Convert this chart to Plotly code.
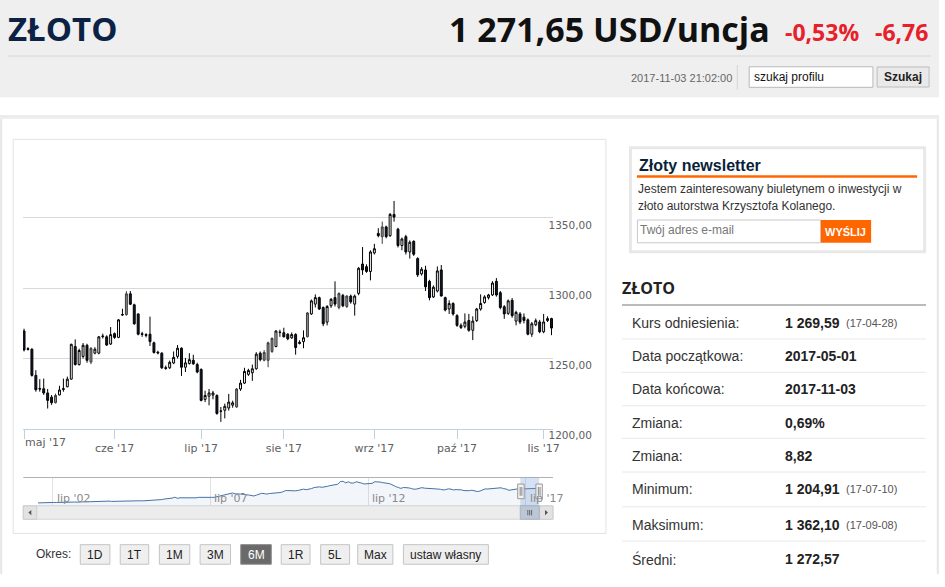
import plotly.graph_objects as go
import pandas as pd

W, H = 945, 587

# ---------------- main series (daily OHLC, USD/oz) ----------------
open_ = [1269.6, 1257.0, 1256.6, 1238.0, 1228.6, 1228.5, 1225.5, 1222.5, 1218.6, 1224.1,
         1228.0, 1229.9, 1235.3, 1258.5, 1245.7, 1251.5, 1259.4, 1247.5, 1253.8, 1253.8,
         1265.5, 1265.4, 1260.3, 1267.7, 1265.0, 1281.0, 1281.2, 1296.0, 1288.2, 1281.7,
         1267.6, 1267.0, 1267.3, 1261.2, 1254.5, 1253.8, 1243.5, 1243.4, 1246.8, 1251.5,
         1257.3, 1243.8, 1246.4, 1248.7, 1245.7, 1242.2, 1220.9, 1223.2, 1224.0, 1223.7,
         1212.5, 1213.2, 1214.8, 1216.8, 1215.5, 1228.3, 1232.5, 1238.7, 1239.9, 1242.7,
         1253.8, 1248.8, 1248.7, 1255.0, 1258.5, 1268.7, 1268.4, 1267.3, 1264.7, 1267.1,
         1261.5, 1262.0, 1265.5, 1281.7, 1288.7, 1293.3, 1286.3, 1275.9, 1287.5, 1293.3,
         1286.3, 1294.9, 1287.0, 1294.4, 1288.7, 1296.3, 1317.2, 1315.3, 1311.9, 1325.1,
         1339.0, 1336.7, 1343.6, 1337.4, 1352.5, 1342.0, 1330.4, 1336.7, 1325.8, 1333.4,
         1321.1, 1310.2, 1313.0, 1304.9, 1293.8, 1298.0, 1313.0, 1293.3, 1285.2, 1289.1,
         1280.5, 1272.0, 1272.9, 1277.0, 1270.1, 1277.0, 1285.2, 1289.8, 1293.3, 1295.2,
         1304.9, 1296.8, 1286.8, 1282.1, 1291.4, 1276.6, 1281.7, 1279.4, 1277.5, 1267.3,
         1274.0, 1276.0, 1269.0, 1277.0, 1278.4]
high = [1271.2, 1258.0, 1257.3, 1241.7, 1235.3, 1235.7, 1228.3, 1224.0, 1225.0, 1230.6,
        1235.7, 1237.1, 1260.5, 1263.6, 1257.0, 1261.0, 1260.5, 1258.0, 1258.0, 1266.0,
        1267.7, 1266.5, 1272.4, 1268.5, 1278.0, 1285.4, 1297.9, 1298.0, 1289.0, 1282.0,
        1269.0, 1268.0, 1279.8, 1262.0, 1255.5, 1254.5, 1245.0, 1248.5, 1255.0, 1259.6,
        1258.0, 1250.4, 1253.8, 1252.7, 1247.0, 1243.0, 1227.1, 1228.3, 1227.0, 1224.5,
        1215.5, 1217.9, 1224.8, 1220.0, 1229.0, 1234.8, 1243.4, 1242.7, 1245.7, 1254.5,
        1255.0, 1256.0, 1262.0, 1265.0, 1270.0, 1270.5, 1271.9, 1268.0, 1268.5, 1268.0,
        1263.0, 1270.0, 1283.0, 1292.0, 1295.6, 1294.0, 1287.0, 1288.0, 1293.0, 1304.9,
        1297.0, 1296.0, 1295.0, 1295.5, 1295.5, 1315.0, 1329.3, 1317.0, 1327.0, 1331.6,
        1342.7, 1347.4, 1344.5, 1353.5, 1362.1, 1343.0, 1336.0, 1338.0, 1334.0, 1334.0,
        1322.0, 1315.0, 1316.0, 1306.0, 1302.0, 1315.5, 1316.5, 1294.0, 1291.4, 1290.0,
        1281.5, 1275.0, 1282.1, 1281.7, 1280.0, 1286.0, 1295.6, 1295.0, 1296.0, 1305.0,
        1307.2, 1298.0, 1288.0, 1292.0, 1293.0, 1284.0, 1283.0, 1282.1, 1278.5, 1276.0,
        1278.5, 1277.5, 1281.7, 1280.0, 1279.0]
low = [1255.0, 1255.7, 1237.1, 1226.4, 1226.4, 1224.1, 1214.4, 1217.0, 1218.0, 1223.7,
       1226.4, 1229.5, 1235.0, 1245.0, 1245.0, 1250.0, 1247.0, 1246.0, 1253.0, 1253.0,
       1264.2, 1259.0, 1259.6, 1264.0, 1264.5, 1280.3, 1280.5, 1288.0, 1274.0, 1266.5,
       1265.4, 1265.0, 1258.9, 1253.5, 1253.0, 1242.5, 1242.0, 1242.5, 1246.0, 1250.0,
       1237.6, 1240.4, 1245.7, 1245.5, 1239.5, 1219.5, 1219.0, 1216.7, 1221.0, 1210.0,
       1204.9, 1207.4, 1213.0, 1215.0, 1215.0, 1227.0, 1231.8, 1237.6, 1234.1, 1242.0,
       1248.0, 1248.0, 1243.8, 1254.0, 1258.0, 1265.4, 1265.0, 1263.0, 1264.0, 1252.7,
       1260.0, 1257.3, 1265.0, 1281.0, 1286.3, 1284.5, 1273.0, 1273.6, 1286.0, 1287.0,
       1285.0, 1286.5, 1286.0, 1289.0, 1280.5, 1295.0, 1309.5, 1311.0, 1305.6, 1324.0,
       1336.2, 1331.6, 1335.5, 1336.5, 1347.4, 1329.0, 1327.0, 1324.0, 1321.1, 1323.0,
       1308.0, 1309.0, 1298.0, 1291.4, 1293.0, 1297.0, 1294.0, 1283.5, 1281.7, 1280.5,
       1272.5, 1271.0, 1271.5, 1269.0, 1263.1, 1276.0, 1284.0, 1289.0, 1292.0, 1294.5,
       1294.0, 1285.0, 1278.2, 1281.0, 1279.0, 1273.6, 1274.5, 1275.0, 1266.5, 1265.4,
       1273.0, 1268.0, 1268.0, 1276.0, 1266.6]
close = [1256.1, 1256.5, 1238.0, 1227.8, 1228.3, 1225.5, 1220.2, 1218.6, 1223.7, 1227.6,
         1228.5, 1235.3, 1260.1, 1245.7, 1255.7, 1259.4, 1248.7, 1257.3, 1256.6, 1265.4,
         1265.9, 1259.6, 1267.0, 1265.0, 1277.5, 1281.2, 1296.0, 1288.6, 1274.7, 1267.3,
         1267.2, 1266.5, 1262.0, 1254.3, 1254.0, 1243.4, 1243.0, 1247.3, 1250.8, 1257.3,
         1243.8, 1246.9, 1249.2, 1246.2, 1240.4, 1220.2, 1223.7, 1225.5, 1225.5, 1210.9,
         1212.6, 1216.0, 1219.0, 1218.5, 1228.3, 1232.5, 1240.8, 1241.5, 1242.7, 1253.1,
         1249.2, 1254.3, 1261.2, 1264.3, 1269.6, 1268.6, 1265.4, 1264.0, 1267.0, 1257.8,
         1260.8, 1264.8, 1282.4, 1291.0, 1293.3, 1285.2, 1274.7, 1287.0, 1292.1, 1288.7,
         1296.3, 1287.5, 1294.4, 1290.3, 1294.4, 1314.2, 1313.0, 1311.9, 1325.8, 1328.1,
         1337.4, 1343.6, 1336.7, 1352.5, 1350.6, 1330.4, 1335.0, 1325.8, 1332.7, 1324.2,
         1309.5, 1313.5, 1301.0, 1293.3, 1300.7, 1312.3, 1294.5, 1284.5, 1289.1, 1281.7,
         1273.6, 1273.6, 1275.9, 1270.1, 1276.6, 1285.2, 1289.1, 1293.8, 1295.2, 1303.7,
         1295.2, 1286.3, 1281.7, 1291.0, 1280.5, 1282.8, 1275.9, 1277.1, 1267.3, 1274.7,
         1276.9, 1269.0, 1276.0, 1278.4, 1271.65]
# sessions drawn as grey-filled candles
gray_idx = [8, 17, 26, 54, 61, 62, 63, 72, 80, 82, 91]

dates = pd.bdate_range("2017-05-01", "2017-11-03") + pd.Timedelta(hours=12)
xs = [d.strftime("%Y-%m-%d %H:%M") for d in dates]

month_ticks = ["2017-05-01", "2017-06-01", "2017-07-03", "2017-08-01",
               "2017-09-01", "2017-10-02", "2017-11-01"]
month_labels = ["maj '17", "cze '17", "lip '17", "sie '17", "wrz '17", "paź '17", "lis '17"]
price_ticks = [1200, 1250, 1300, 1350, 1400]
price_labels = ["1200,00", "1250,00", "1300,00", "1350,00", ""]

# ---------------- navigator (monthly, USD/oz, 2002-2017) ----------------
nav_values = [
    282, 296, 294, 302, 314, 321, 313, 310, 319, 317, 319, 333,
    356, 359, 340, 328, 356, 356, 351, 359, 378, 379, 389, 407,
    414, 405, 406, 404, 384, 392, 398, 400, 406, 420, 439, 442,
    424, 423, 434, 429, 422, 430, 424, 438, 456, 470, 476, 510,
    549, 555, 557, 610, 676, 596, 633, 632, 598, 585, 627, 629,
    631, 665, 655, 679, 667, 655, 665, 665, 712, 754, 806, 803,
    889, 922, 968, 909, 888, 889, 939, 839, 829, 806, 760, 816,
    858, 943, 924, 890, 928, 946, 934, 949, 996, 1043, 1127, 1134,
    1118, 1095, 1113, 1148, 1205, 1232, 1193, 1215, 1271, 1342, 1370, 1391,
    1360, 1374, 1424, 1474, 1512, 1529, 1572, 1756, 1772, 1665, 1739, 1652,
    1656, 1743, 1675, 1649, 1589, 1596, 1594, 1630, 1744, 1747, 1722, 1684,
    1671, 1628, 1593, 1487, 1414, 1343, 1286, 1347, 1349, 1316, 1275, 1221,
    1244, 1300, 1336, 1299, 1287, 1279, 1311, 1296, 1239, 1222, 1176, 1201,
    1251, 1227, 1179, 1198, 1199, 1182, 1131, 1117, 1125, 1159, 1086, 1068,
    1097, 1200, 1246, 1242, 1260, 1276, 1337, 1341, 1326, 1266, 1236, 1152,
    1192, 1234, 1231, 1266, 1246, 1260, 1236, 1283, 1314, 1280, 1275]
nav_dates = pd.date_range("2002-01-01", periods=len(nav_values), freq="MS") + pd.Timedelta(days=14)
nav_ticks = ["2002-07-01", "2007-07-01", "2012-07-01", "2017-07-01"]
nav_labels = ["lip '02", "lip '07", "lip '12", "lip '17"]

# ---------------- side table ----------------
table_labels = ["Kurs odniesienia:", "Data początkowa:", "Data końcowa:", "Zmiana:",
                "Zmiana:", "Minimum:", "Maksimum:", "Średni:"]
table_values = ["1 269,59", "2017-05-01", "2017-11-03", "0,69%", "8,82",
                "1 204,91", "1 362,10", "1 272,57"]
table_dates = ["(17-04-28)", "", "", "", "", "(17-07-10)", "(17-09-08)", ""]

period_buttons = ["1D", "1T", "1M", "3M", "6M", "1R", "5L", "Max", "ustaw własny"]
active_period = "6M"

# =================================================================
def X(px):
    return px / W


def Y(py):
    return 1 - py / H


shapes, annotations = [], []


def rect(x0, y0, x1, y1, fill="rgba(0,0,0,0)", line=None, lw=1, layer="below"):
    shapes.append(dict(type="rect", xref="paper", yref="paper",
                       x0=X(x0), x1=X(x1), y0=Y(y1), y1=Y(y0), fillcolor=fill,
                       line=dict(color=line if line else "rgba(0,0,0,0)", width=lw if line else 0),
                       layer=layer))


def hline(x0, x1, y, color, lw=1, layer="below"):
    shapes.append(dict(type="line", xref="paper", yref="paper", x0=X(x0), x1=X(x1),
                       y0=Y(y), y1=Y(y), line=dict(color=color, width=lw), layer=layer))


def vline(x, y0, y1, color, lw=1, layer="below"):
    shapes.append(dict(type="line", xref="paper", yref="paper", x0=X(x), x1=X(x),
                       y0=Y(y0), y1=Y(y1), line=dict(color=color, width=lw), layer=layer))


def text(x, y, s, size, color, family="Liberation Sans", anchor="left", bold=False):
    annotations.append(dict(xref="paper", yref="paper", x=X(x), y=Y(y),
                            text=f"<b>{s}</b>" if bold else s, showarrow=False,
                            xanchor=anchor, yanchor="middle", borderpad=0,
                            font=dict(size=size, color=color, family=family)))


# ---- header ----
rect(0, 0, W, 99.5, fill="#efefef")
text(7, 29, "ZŁOTO", 33, "#0b2244", family="Open Sans", bold=True)
text(451, 29.5, "1 271,65 USD/uncja", 34, "#111111", family="Open Sans", bold=True)
text(789, 33, "-0,53%", 23, "#e8202a", family="Open Sans", bold=True)
text(880, 33, "-6,76", 23, "#e8202a", family="Open Sans", bold=True)
hline(8, 937, 57.3, "#d6d6d6")
text(634, 79.5, "2017-11-03 21:02:00", 11, "#666666")
vline(742, 66.5, 91.5, "#d4d4d4")
rect(754, 68.3, 878.5, 89.3, fill="#ffffff", line="#b8b8b8")
text(758, 78.8, "szukaj profilu", 12, "#111111")
rect(882.7, 68.5, 935, 89, fill="#e9e9e9", line="#bdbdbd")
text(908.8, 78.8, "Szukaj", 12, "#222222", anchor="center", bold=True)

# ---- content panel ----
rect(0, 117.5, W, 121.5, fill="#ececec")
vline(1.2, 121.5, H, "#e6e6e6", lw=2)
vline(943.8, 121.5, H, "#e6e6e6", lw=2)
rect(13.3, 142.5, 609.8, 545.5, fill="#ffffff", line="#e2e2e2")

# ---- newsletter ----
rect(634.5, 151, 930.5, 257.5, fill="#ffffff", line="#e8e8e8", lw=3)
text(642, 169.5, "Złoty newsletter", 16, "#0b1f3a", bold=True)
hline(641, 923, 180.5, "#ff6600", lw=2.5)
text(641, 193.3, "Jestem zainteresowany biuletynem o inwestycji w", 12, "#333333")
text(641, 211, "złoto autorstwa Krzysztofa Kolanego.", 12, "#333333")
rect(641.5, 225, 826, 248.3, fill="#ffffff", line="#c8c8c8")
text(643, 235, "Twój adres e-mail", 12, "#777777")
rect(826, 225, 876.7, 248.3, fill="#ff6600")
text(851.3, 236.8, "WYŚLIJ", 11, "#ffffff", anchor="center", bold=True)

# ---- table ----
text(625, 295, "ZŁOTO", 16, "#222222", family="Open Sans", bold=True)
hline(626, 932, 312, "#bbbbbb", lw=2)
row_y = [330, 364.3, 398.3, 432.7, 466, 500, 536.7, 571.7]
sep_y = [346.7, 380.7, 415, 448.3, 482.7, 518.3, 553.3]
for yy in sep_y:
    hline(626, 932, yy, "#e8e8e8")
for lab, val, dt, yy in zip(table_labels, table_values, table_dates, row_y):
    text(635.5, yy, lab, 14, "#333333")
    text(789, yy, val, 14, "#222222", bold=True)
    if dt:
        text(850.5, yy + 0.5, dt, 11, "#555555")

# ---- period buttons ----
text(35, 567, "Okres:", 12, "#333333")
btn_x = [(80.8, 110.6), (121, 149.7), (160.4, 191), (201.4, 232), (242.3, 273),
         (283, 312), (322.7, 351.8), (360, 395.4), (406, 491.5)]
for lab, (bx0, bx1) in zip(period_buttons, btn_x):
    on = lab == active_period
    rect(bx0, 557, bx1, 577, fill="#6a6a6a" if on else "#efefef", line="#8a8a8a" if on else "#c4c4c4")
    text((bx0 + bx1) / 2, 567.5, lab, 12, "#ffffff" if on else "#222222", anchor="center")

# ---- navigator chrome ----
NX0, NX1, NY0, NY1 = 23.4, 556.5, 488.3, 517.3
rect(NX0, 517.3, NX1, 531, fill="#ececec", line="#d6d6d6")
rect(NX0, 517.3, 37, 531, fill="#e2e2e2", line="#cccccc")
rect(543, 517.3, NX1, 531, fill="#e2e2e2", line="#cccccc")
shapes.append(dict(type="path", xref="paper", yref="paper",
                   path=f"M {X(31.5)} {Y(521.5)} L {X(28.5)} {Y(524.2)} L {X(31.5)} {Y(527)} Z",
                   fillcolor="#555555", line=dict(width=0)))
shapes.append(dict(type="path", xref="paper", yref="paper",
                   path=f"M {X(548.5)} {Y(521.5)} L {X(551.5)} {Y(524.2)} L {X(548.5)} {Y(527)} Z",
                   fillcolor="#555555", line=dict(width=0)))
rect(523.6, 517.3, 542.7, 531, fill="#bcc6d4", line="#aab4c4", layer="above")
for vx in (531.2, 533.1, 535.0):
    vline(vx, 521.5, 527, "#666666", layer="above")
hline(NX0, NX1, NY0, "#b2b1b6", layer="above")
rect(523.6, NY0, 542.7, NY1, fill="rgba(120,160,215,0.30)", layer="above")
for hx in (521, 539.3):
    rect(hx, 495, hx + 6.5, 510, fill="#f2f2f2", line="#999999", layer="above")
    vline(hx + 2.5, 498, 507, "#888888", layer="above")
    vline(hx + 4.2, 498, 507, "#888888", layer="above")

for t, lab in zip(nav_ticks, nav_labels):
    annotations.append(dict(xref="x2", yref="paper", x=t, y=Y(509.5), text=lab,
                            showarrow=False, xanchor="left", yanchor="middle", xshift=2,
                            font=dict(size=11, color="#8a8a8a", family="DejaVu Sans")))

# first month label is left-justified like the reference
annotations.append(dict(xref="x", yref="paper", x=month_ticks[0] + " 12:00", y=Y(453),
                        text=month_labels[0], showarrow=False, xanchor="left", yanchor="middle",
                        xshift=-1, font=dict(size=11, color="#606060", family="DejaVu Sans")))

# ---------------- traces ----------------
norm_idx = [i for i in range(len(xs)) if i not in gray_idx]


def pick(arr, idx):
    return [arr[i] for i in idx]


fig = go.Figure()
fig.add_trace(go.Candlestick(
    x=pick(xs, norm_idx), open=pick(open_, norm_idx), high=pick(high, norm_idx),
    low=pick(low, norm_idx), close=pick(close, norm_idx),
    increasing=dict(fillcolor="#ffffff", line=dict(color="#000000", width=1)),
    decreasing=dict(fillcolor="#0f1a2e", line=dict(color="#000000", width=1)),
    whiskerwidth=0, hoverinfo="skip", showlegend=False, xaxis="x", yaxis="y"))
fig.add_trace(go.Candlestick(
    x=pick(xs, gray_idx), open=pick(open_, gray_idx), high=pick(high, gray_idx),
    low=pick(low, gray_idx), close=pick(close, gray_idx),
    increasing=dict(fillcolor="#8a8a8a", line=dict(color="#3c3c3c", width=1)),
    decreasing=dict(fillcolor="#8a8a8a", line=dict(color="#3c3c3c", width=1)),
    whiskerwidth=0, hoverinfo="skip", showlegend=False, xaxis="x", yaxis="y"))
fig.add_trace(go.Scatter(
    x=nav_dates, y=nav_values, mode="lines", line=dict(color="#4572a7", width=1),
    fill="tozeroy", fillcolor="rgba(69,114,167,0.07)", hoverinfo="skip",
    showlegend=False, xaxis="x2", yaxis="y2"))

fig.update_layout(
    width=W, height=H, margin=dict(l=0, r=0, t=0, b=0),
    paper_bgcolor="#ffffff", plot_bgcolor="rgba(0,0,0,0)",
    showlegend=False, hovermode=False, boxgap=0.3,
    xaxis=dict(domain=[X(23.2), X(557)], type="date",
               range=["2017-05-01 06:00", "2017-11-03 23:59"],
               rangebreaks=[dict(bounds=["sat", "mon"])],
               rangeslider=dict(visible=False),
               tickmode="array", tickvals=[t + " 12:00" for t in month_ticks],
               ticktext=[""] + month_labels[1:],
               ticks="outside", ticklen=9, tickcolor="#c0d0e0", tickwidth=1,
               showline=True, linecolor="#c0d0e0", linewidth=1,
               showgrid=False, zeroline=False,
               tickfont=dict(size=11, color="#606060", family="DejaVu Sans"),
               anchor="y", fixedrange=True),
    yaxis=dict(domain=[Y(438.5), Y(151)], range=[1200, 1400], side="right",
               tickmode="array", tickvals=price_ticks, ticktext=price_labels,
               showgrid=True, gridcolor="#d9d9d9", gridwidth=1, zeroline=False,
               showline=False, ticks="", ticklabelstandoff=-6, ticklabelshift=7,
               tickfont=dict(size=10.5, color="#606060", family="DejaVu Sans"),
               anchor="x", fixedrange=True),
    xaxis2=dict(domain=[X(NX0), X(NX1)], type="date", range=["2001-07-27", "2018-05-10"],
                tickmode="array", tickvals=nav_ticks, showticklabels=False,
                showgrid=True, gridcolor="#e2e2e2", showline=False, zeroline=False,
                ticks="", anchor="y2", fixedrange=True),
    yaxis2=dict(domain=[Y(NY1), Y(NY0)], range=[77.5, 2037], visible=False,
                showgrid=False, zeroline=False, anchor="x2", fixedrange=True),
    shapes=shapes, annotations=annotations,
)

fig.write_html("out.html", config=dict(displayModeBar=False),
               post_script="document.body.style.margin='0px';document.body.style.overflow='hidden';")
